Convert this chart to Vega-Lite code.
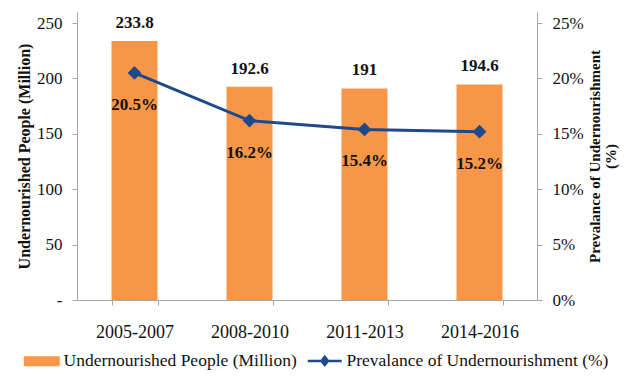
{
  "$schema": "https://vega.github.io/schema/vega-lite/v6.json",
  "width": 460,
  "height": 288,
  "autosize": "none",
  "padding": {"left": 77, "top": 12, "right": 88, "bottom": 76},
  "config": {
    "font": "Liberation Serif",
    "view": {"stroke": null},
    "axis": {
      "labelFont": "Liberation Serif",
      "titleFont": "Liberation Serif",
      "labelFontSize": 17,
      "titleFontSize": 16,
      "titleFontWeight": "bold",
      "labelColor": "#111111",
      "titleColor": "#111111",
      "domainColor": "#a6a6a6",
      "tickColor": "#a6a6a6",
      "grid": false
    }
  },
  "data": {
    "values": [
      {"period": "2005-2007", "people": 233.8, "prev": 0.205},
      {"period": "2008-2010", "people": 192.6, "prev": 0.162},
      {"period": "2011-2013", "people": 191, "prev": 0.154},
      {"period": "2014-2016", "people": 194.6, "prev": 0.152}
    ]
  },
  "encoding": {
    "x": {
      "field": "period",
      "type": "nominal",
      "sort": null,
      "scale": {"paddingInner": 0.6, "paddingOuter": 0.3},
      "axis": {
        "title": null,
        "labelAngle": 0,
        "tickBand": "extent",
        "tickSize": 5,
        "labelPadding": 18,
        "labelFontSize": 18
      }
    }
  },
  "layer": [
    {
      "layer": [
        {
          "mark": {"type": "bar"},
          "encoding": {
            "y": {
              "field": "people",
              "type": "quantitative",
              "scale": {"domain": [0, 250]},
              "axis": {
                "orient": "left",
                "title": "Undernourished People (Million)",
                "values": [0, 50, 100, 150, 200, 250],
                "labelExpr": "datum.value === 0 ? '-' : datum.label",
                "tickSize": 5,
                "labelPadding": 10,
                "titlePadding": 4
              }
            },
            "color": {
              "datum": "Undernourished People (Million)",
              "scale": {
                "domain": ["Undernourished People (Million)", "Prevalance of Undernourishment (%)"],
                "range": ["#F79646", "#1F4A8A"]
              },
              "legend": {
                "orient": "none",
                "legendX": -44,
                "legendY": 340,
                "direction": "horizontal",
                "title": null,
                "labelFont": "Liberation Serif",
                "labelFontSize": 17.5,
                "labelColor": "#111111",
                "labelLimit": 400,
                "symbolSize": 400,
                "labelOffset": 13,
                "columnPadding": 5,
                "encode": {
                  "symbols": {
                    "update": {
                      "shape": {"signal": "datum.value === 'Undernourished People (Million)' ? 'M-1.8,-0.5H1.8V0.5H-1.8Z' : 'M-1.7,0H1.7M0,-0.4L0.32,0L0,0.4L-0.32,0Z'"},
                      "fill": {"signal": "datum.value === 'Undernourished People (Million)' ? '#F79646' : '#1F4A8A'"},
                      "stroke": {"signal": "datum.value === 'Undernourished People (Million)' ? 'transparent' : '#1F4A8A'"},
                      "strokeWidth": {"signal": "datum.value === 'Undernourished People (Million)' ? 0 : 2.5"},
                      "opacity": {"value": 1},
                      "fillOpacity": {"value": 1}
                    }
                  }
                }
              }
            }
          }
        },
        {
          "mark": {"type": "text", "dy": -18, "fontWeight": "bold", "fontSize": 17, "color": "#111111"},
          "encoding": {
            "y": {"field": "people", "type": "quantitative"},
            "text": {"field": "people", "type": "quantitative"}
          }
        }
      ]
    },
    {
      "layer": [
        {
          "mark": {"type": "line", "strokeWidth": 3},
          "encoding": {
            "y": {
              "field": "prev",
              "type": "quantitative",
              "scale": {"domain": [0, 0.25]},
              "axis": {
                "orient": "right",
                "title": ["Prevalance of Undernourishment", "(%)"],
                "titleAngle": 270,
                "titleBaseline": "top",
                "titleFontSize": 15,
                "titleLineHeight": 16,
                "format": ".0%",
                "values": [0, 0.05, 0.1, 0.15, 0.2, 0.25],
                "tickSize": 5,
                "labelPadding": 10,
                "titlePadding": -12
              }
            },
            "color": {"datum": "Prevalance of Undernourishment (%)"}
          }
        },
        {
          "mark": {"type": "point", "shape": "diamond", "filled": true, "size": 190, "color": "#1F4A8A", "opacity": 1},
          "encoding": {
            "y": {"field": "prev", "type": "quantitative"}
          }
        },
        {
          "mark": {"type": "text", "dy": 32, "fontWeight": "bold", "fontSize": 17, "color": "#111111"},
          "encoding": {
            "y": {"field": "prev", "type": "quantitative"},
            "text": {"field": "prev", "type": "quantitative", "format": ".1%"}
          }
        }
      ]
    }
  ],
  "resolve": {"scale": {"y": "independent"}}
}
